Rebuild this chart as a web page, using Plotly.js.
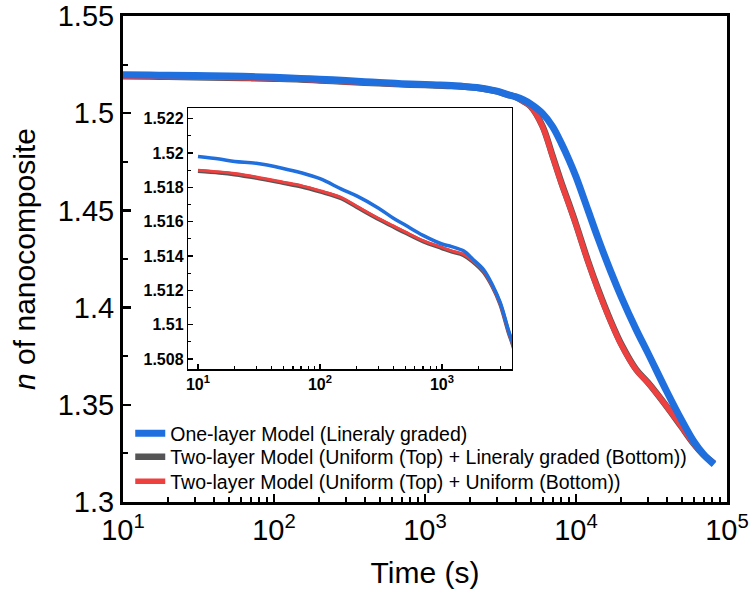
<!DOCTYPE html>
<html><head><meta charset="utf-8">
<script src="https://cdn.plot.ly/plotly-3.0.1.min.js"></script>
<style>body{margin:0;background:#fff}#chart{width:752px;height:607px}</style>
</head><body><div id="chart"></div>
<script>
const timeS = [10,15,20,30,50,70,100,150,200,300,400,500,700,1000,1200,1500,1800,2200,2600,3000,3500,4000,4500,5000,6000,7000,8000,9000,10000,12000,14000,17000,20000,25000,30000,40000,50000,60000,70000,82000];
const nOneLayer = [1.5198,1.51965,1.5195,1.5194,1.5191,1.51885,1.5185,1.5179,1.5175,1.5168,1.5162,1.5158,1.5152,1.5147,1.51455,1.5143,1.5138,1.5132,1.5123,1.5113,1.5097,1.5084,1.5068,1.5048,1.4999,1.4931,1.4845,1.4759,1.4673,1.4502,1.4356,1.4185,1.4053,1.3888,1.3765,1.3567,1.3422,1.3314,1.3245,1.3194];
const nTwoLayerGraded = [1.51895,1.51885,1.51875,1.51855,1.51825,1.51805,1.51775,1.51735,1.51685,1.51615,1.5157,1.51535,1.51485,1.51445,1.51425,1.51405,1.51365,1.51305,1.5122,1.5112,1.5096,1.5083,1.5060,1.5036,1.4934,1.4780,1.4643,1.4532,1.4429,1.4240,1.4095,1.3930,1.3810,1.3682,1.3614,1.3490,1.3386,1.3301,1.3242,1.3199];
const nTwoLayerUniform = [1.5190,1.5189,1.5188,1.5186,1.5183,1.5181,1.5178,1.5174,1.5169,1.5162,1.51575,1.5154,1.5149,1.5145,1.5143,1.5141,1.5137,1.5131,1.5122,1.5112,1.5096,1.5083,1.5059,1.5035,1.4931,1.4776,1.4639,1.4528,1.4425,1.4236,1.4091,1.3927,1.3806,1.3680,1.3612,1.3490,1.3387,1.3302,1.3242,1.3199];
const seriesNames = ['One-layer Model (Lineraly graded)','Two-layer Model (Uniform (Top) + Lineraly graded (Bottom))','Two-layer Model (Uniform (Top) + Uniform (Bottom))'];
const xTickVals = [10,100,1000,10000,100000];
const xTickText = ['10<sup>1</sup>','10<sup>2</sup>','10<sup>3</sup>','10<sup>4</sup>','10<sup>5</sup>'];
const xTitle = 'Time (s)';
const yTitle = '<i>n</i> of nanocomposite';

const minorVals = [];
for (let k = 1; k <= 4; k++) for (let m = 2; m <= 9; m++) minorVals.push(m * Math.pow(10, k));

const FONT = '"Liberation Sans", Arial, sans-serif';
const BLUE = '#1F6FDE', GRAY = '#555555', RED = '#EF4040';

function mk(y, name, color, w, legendId, inset) {
  return {x: timeS, y: y, name: name, type: 'scatter', mode: 'lines',
    line: {color: color, width: w, shape: 'spline', smoothing: 1}, legend: legendId,
    showlegend: !inset, xaxis: inset ? 'x2' : 'x', yaxis: inset ? 'y2' : 'y', hoverinfo: 'skip'};
}
const data = [
  mk(nTwoLayerGraded, seriesNames[1], GRAY, 6.5, 'legend2', false),
  mk(nTwoLayerUniform, seriesNames[2], RED, 5.5, 'legend3', false),
  mk(nOneLayer, seriesNames[0], BLUE, 7, 'legend', false),
  mk(nTwoLayerGraded, seriesNames[1], GRAY, 4, 'legend2', true),
  mk(nTwoLayerUniform, seriesNames[2], RED, 3, 'legend3', true),
  mk(nOneLayer, seriesNames[0], BLUE, 3.5, 'legend', true)
];

function leg(y) {
  return {x: 0.012, y: y, xanchor: 'left', yanchor: 'top', bgcolor: 'rgba(0,0,0,0)',
    font: {size: 19.5, family: FONT, color: '#000'}, tracegroupgap: 0};
}

const layout = {
  width: 752, height: 607,
  margin: {l: 123, r: 25, t: 16, b: 105},
  paper_bgcolor: '#fff', plot_bgcolor: '#fff',
  font: {family: FONT, color: '#000'},
  showlegend: true,
  legend: leg(0.181),
  legend2: leg(0.1326),
  legend3: leg(0.0822),
  xaxis: {type: 'log', range: [1, 5], tickmode: 'array', tickvals: xTickVals, ticktext: xTickText,
    ticks: 'inside', ticklen: 8, tickwidth: 2.5, tickcolor: '#000',
    showline: true, linewidth: 3, linecolor: '#000', mirror: true,
    showgrid: false, zeroline: false, tickfont: {size: 29, family: FONT},
    minor: {tickmode: 'array', tickvals: minorVals, ticks: 'inside', ticklen: 5, tickwidth: 2, tickcolor: '#000', showgrid: false},
    title: {text: xTitle, font: {size: 30, family: FONT}, standoff: 18}, automargin: false},
  yaxis: {range: [1.3, 1.55], dtick: 0.05, tick0: 1.3,
    ticks: 'inside', ticklen: 8, tickwidth: 2.5, tickcolor: '#000',
    showline: true, linewidth: 3, linecolor: '#000', mirror: true,
    showgrid: false, zeroline: false, tickfont: {size: 29, family: FONT},
    minor: {dtick: 0.025, ticks: 'inside', ticklen: 5, tickwidth: 2, tickcolor: '#000', showgrid: false},
    title: {text: yTitle, font: {size: 30, family: FONT}, standoff: 14}, automargin: false},
  xaxis2: {type: 'log', range: [0.92, 3.574], domain: [0.108, 0.644], anchor: 'y2',
    tickmode: 'array', tickvals: xTickVals.slice(0, 3), ticktext: xTickText.slice(0, 3),
    ticks: 'inside', ticklen: 5, tickwidth: 1.5, tickcolor: '#000',
    showline: true, linewidth: 1.5, linecolor: '#000', mirror: true,
    showgrid: false, zeroline: false, tickfont: {size: 16, family: FONT, weight: 'bold'},
    minor: {tickmode: 'array', tickvals: minorVals, ticks: 'inside', ticklen: 3, tickwidth: 1.2, tickcolor: '#000', showgrid: false}},
  yaxis2: {range: [1.5074, 1.5226], domain: [0.273, 0.81], anchor: 'x2', dtick: 0.002, tick0: 1.508,
    ticks: 'inside', ticklen: 5, tickwidth: 1.5, tickcolor: '#000',
    showline: true, linewidth: 1.5, linecolor: '#000', mirror: true,
    showgrid: false, zeroline: false, tickfont: {size: 16, family: FONT, weight: 'bold'},
    minor: {dtick: 0.001, ticks: 'inside', ticklen: 3, tickwidth: 1.2, tickcolor: '#000', showgrid: false}}
};

Plotly.newPlot('chart', data, layout, {displayModeBar: false, staticPlot: true});
</script>
</body></html>
